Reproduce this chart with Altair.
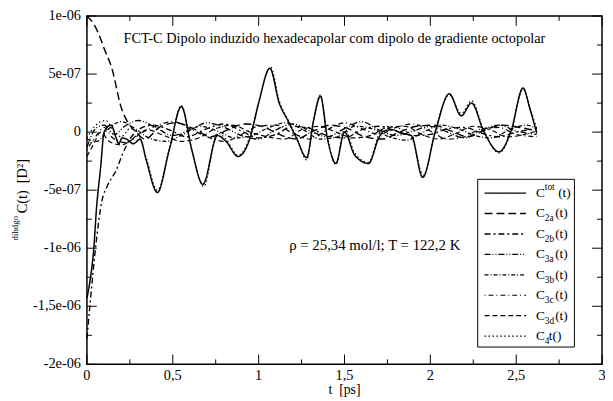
import altair as alt
import pandas as pd

W, H = 522, 353
FONT = "Liberation Serif"

# ---- data (values in units of 1e-07 D^2) ----
t_tot = [0, 0.02, 0.04, 0.055, 0.08, 0.10, 0.14, 0.17, 0.185, 0.205, 0.23, 0.27, 0.31, 0.345, 0.41, 0.48,
         0.55, 0.61, 0.675, 0.76, 0.81, 0.88, 0.95, 1.0, 1.065, 1.12, 1.17, 1.22, 1.28, 1.32, 1.36, 1.40,
         1.45, 1.50, 1.56, 1.64, 1.70, 1.73, 1.78, 1.83, 1.89, 1.955, 2.03, 2.11, 2.18, 2.24, 2.31, 2.40,
         2.47, 2.54, 2.58, 2.62]
c_tot = [-14.3, -12.6, -10.0, -6.7, -3.0, 0.0, 0.6, -0.5, -1.0, -0.5, -0.6, -1.0, -0.6, -2.4, -5.2, -1.5,
         2.2, -1.5, -4.5, -0.3, -0.8, -2.1, -0.5, 2.5, 5.5, 2.5, 1.0, -0.5, -2.2, 1.0, 3.1, -0.5,
         -2.7, 0.0, -2.0, -2.7, -0.5, 0.1, 0.2, -0.1, -0.3, -3.9, 0.1, 3.3, 1.4, 2.5, 0.1, -1.7,
         0.1, 3.8, 2.0, -0.1]

t_2a = [0, 0.04, 0.07, 0.10, 0.145, 0.2, 0.24, 0.28, 0.34, 0.42, 0.52, 0.62, 0.72, 0.82, 0.92, 1.02,
        1.12, 1.22, 1.32, 1.42, 1.52, 1.62, 1.72, 1.82, 1.92, 2.02, 2.12, 2.22, 2.32, 2.42, 2.52, 2.62]
c_2a = [10.0, 9.3, 8.4, 7.2, 5.5, 2.1, 0.8, 0.1, -0.6, 0.4, 0.8, 0.3, -0.4, 0.2, 0.7, 0.5,
        -0.2, -0.6, 0.1, 0.6, 0.3, -0.4, -0.6, 0.0, 0.5, 0.6, 0.1, -0.4, 0.2, 0.6, 0.4, 0.1]

t_2b = [0, 0.02, 0.05, 0.086, 0.12, 0.17, 0.21, 0.25, 0.3, 0.38, 0.48, 0.58, 0.7, 0.8, 0.9, 1.0,
        1.1, 1.2, 1.3, 1.4, 1.5, 1.6, 1.7, 1.8, 1.9, 2.0, 2.1, 2.2, 2.3, 2.4, 2.5, 2.62]
c_2b = [-17.8, -14.5, -10.0, -6.0, -4.6, -3.3, -1.8, -0.6, 0.2, 0.6, 0.2, -0.4, 0.3, 0.7, 0.1, -0.5,
        -0.2, 0.5, 0.3, -0.3, -0.5, 0.2, 0.5, 0.1, -0.3, -0.2, 0.3, 0.4, -0.1, -0.4, 0.0, 0.3]

t_3a = [0, 0.05, 0.1, 0.16, 0.22, 0.3, 0.4, 0.5, 0.6, 0.7, 0.8, 0.9, 1.0, 1.1, 1.2, 1.3, 1.4, 1.5,
        1.6, 1.7, 1.8, 1.9, 2.0, 2.1, 2.2, 2.3, 2.4, 2.5, 2.62]
c_3a = [-1.3, 0.3, 0.6, -0.2, 0.5, 1.0, 0.4, -0.3, 0.2, 0.8, 0.4, -0.3, -0.6, 0.2, 0.7, 0.1, -0.4, 0.3,
        0.9, 0.2, -0.3, 0.1, 0.5, 0.0, -0.5, 0.2, 0.6, 0.1, -0.2]

t_3b = [0, 0.06, 0.12, 0.2, 0.28, 0.36, 0.46, 0.56, 0.66, 0.76, 0.86, 0.96, 1.06, 1.16, 1.26, 1.36,
        1.46, 1.56, 1.66, 1.76, 1.86, 1.96, 2.06, 2.16, 2.26, 2.36, 2.46, 2.56, 2.62]
c_3b = [-0.6, -0.8, 0.2, 0.9, 0.3, -0.5, -0.8, -0.2, 0.5, 0.1, -0.5, -0.3, 0.4, 0.8, 0.2, -0.6,
        -0.4, 0.5, 0.3, -0.4, -0.7, 0.0, 0.6, 0.3, -0.3, -0.5, 0.2, 0.6, 0.3]

t_3c = [0, 0.05, 0.1, 0.15, 0.22, 0.3, 0.4, 0.5, 0.6, 0.7, 0.8, 0.9, 1.0, 1.1, 1.2, 1.3, 1.4, 1.5,
        1.6, 1.7, 1.8, 1.9, 2.0, 2.1, 2.2, 2.3, 2.4, 2.5, 2.62]
c_3c = [-1.5, -0.4, 0.4, -0.5, -0.9, -0.2, 0.5, 0.9, 0.3, -0.4, -0.8, -0.2, 0.5, 0.6, -0.1, -0.6, 0.2, 0.8,
        0.3, -0.2, 0.4, 0.7, 0.1, -0.6, -0.4, 0.3, 0.4, -0.2, -0.4]

t_3d = [0, 0.04, 0.08, 0.13, 0.2, 0.27, 0.35, 0.45, 0.55, 0.65, 0.75, 0.85, 0.95, 1.05, 1.15, 1.25,
        1.35, 1.45, 1.55, 1.65, 1.75, 1.85, 1.95, 2.05, 2.15, 2.25, 2.35, 2.45, 2.55, 2.62]
c_3d = [-2.1, -1.0, 0.0, -0.8, -1.1, -0.6, 0.2, -0.3, -0.8, -0.5, 0.3, 0.6, 0.0, -0.4, -0.6, 0.2,
        0.5, 0.0, -0.5, -0.3, 0.4, 0.5, -0.2, -0.6, -0.1, 0.5, 0.2, -0.4, -0.2, 0.1]

t_4 = [0, 0.04, 0.08, 0.11, 0.15, 0.2, 0.25, 0.3, 0.345, 0.41, 0.48, 0.55, 0.61, 0.68, 0.76, 0.81,
       0.88, 0.95, 1.0, 1.07, 1.12, 1.17, 1.22, 1.28, 1.32, 1.36, 1.40, 1.45, 1.50, 1.56, 1.64, 1.70,
       1.74, 1.79, 1.84, 1.89, 1.96, 2.03, 2.11, 2.18, 2.24, 2.31, 2.40, 2.47, 2.54, 2.58, 2.62]
c_4 = [-0.5, 0.4, 0.9, 1.0, 0.2, -0.4, 0.3, -0.2, -2.2, -5.0, -1.4, 2.3, -1.4, -4.7, -0.1, -0.6,
       -2.0, -0.3, 2.6, 5.6, 2.7, 1.1, -0.4, -2.4, 1.1, 3.2, -0.4, -2.8, 0.3, -1.8, -2.6, -0.2,
       0.5, 0.4, 0.2, -0.4, -3.7, 0.2, 3.2, 1.6, 2.7, 0.2, -1.8, 0.0, 3.7, 2.1, 0.3]

series_names = ["tot", "2a", "2b", "3a", "3b", "3c", "3d", "4"]
series_data = [(t_tot, c_tot), (t_2a, c_2a), (t_2b, c_2b), (t_3a, c_3a), (t_3b, c_3b),
               (t_3c, c_3c), (t_3d, c_3d), (t_4, c_4)]
dash_patterns = [[1, 0], [8, 4], [6, 3, 2, 3], [6, 2, 1, 2, 1, 2], [4, 2, 1, 2], [1, 3, 5, 3], [5, 3], [1.5, 2.5]]
stroke_widths = [1.5, 1.1, 1.1, 1.1, 1.1, 1.1, 1.1, 1.2]

# axis ticks / labels
x_major = [0, 0.5, 1, 1.5, 2, 2.5, 3]
x_major_text = ["0", "0,5", "1", "1,5", "2", "2,5", "3"]
x_minor = [0.25, 0.75, 1.25, 1.75, 2.25, 2.75]
y_major = [-2e-06, -1.5e-06, -1e-06, -5e-07, 0, 5e-07, 1e-06]
y_major_text = ["-2e-06", "-1,5e-06", "-1e-06", "-5e-07", "0", "5e-07", "1e-06"]
y_minor = [-1.75e-06, -1.25e-06, -7.5e-07, -2.5e-07, 2.5e-07, 7.5e-07]

title_text = "FCT-C Dipolo induzido hexadecapolar com dipolo de gradiente octopolar"
note_text = "ρ = 25,34 mol/l; T = 122,2 K"
x_title = "t\u00a0\u00a0[ps]"
y_title_pre = "dihdgo"
y_title_main = "C(t)\u00a0\u00a0[D²]"

# ---- build tables ----
rows = []
for name, (ts, cs) in zip(series_names, series_data):
    for t, c in zip(ts, cs):
        rows.append({"series": name, "t": t, "c": c * 1e-07})
df = pd.DataFrame(rows)

xs = alt.Scale(domain=[0, 3], nice=False, zero=False)
ys = alt.Scale(domain=[-2e-06, 1e-06], nice=False, zero=False)
dash_scale = alt.Scale(domain=series_names, range=dash_patterns)
sw_scale = alt.Scale(domain=series_names, range=stroke_widths)

lines = alt.Chart(df).mark_line(color="black", interpolate="monotone").encode(
    x=alt.X("t:Q", scale=xs, axis=None),
    y=alt.Y("c:Q", scale=ys, axis=None),
    detail="series:N",
    strokeDash=alt.StrokeDash("series:N", scale=dash_scale, legend=None),
    strokeWidth=alt.StrokeWidth("series:N", scale=sw_scale, legend=None),
)


def tick_layer(vals, axis, length, side):
    d = pd.DataFrame({"v": vals})
    base = alt.Chart(d).mark_rule(color="black", strokeWidth=1)
    if axis == "x":
        if side == "bottom":
            return base.encode(x=alt.X("v:Q", scale=xs, axis=None), y=alt.value(H), y2=alt.value(H - length))
        return base.encode(x=alt.X("v:Q", scale=xs, axis=None), y=alt.value(0), y2=alt.value(length))
    if side == "left":
        return base.encode(y=alt.Y("v:Q", scale=ys, axis=None), x=alt.value(0), x2=alt.value(length))
    return base.encode(y=alt.Y("v:Q", scale=ys, axis=None), x=alt.value(W), x2=alt.value(W - length))


ticks = [
    tick_layer(x_major, "x", 10, "bottom"), tick_layer(x_minor, "x", 5, "bottom"),
    tick_layer(x_major, "x", 10, "top"), tick_layer(x_minor, "x", 5, "top"),
    tick_layer(y_major, "y", 10, "left"), tick_layer(y_minor, "y", 5, "left"),
    tick_layer(y_major, "y", 10, "right"), tick_layer(y_minor, "y", 5, "right"),
]

x_labels = alt.Chart(pd.DataFrame({"v": x_major, "lab": x_major_text})).mark_text(
    font=FONT, fontSize=14.5, align="center", baseline="middle", color="black").encode(
    x=alt.X("v:Q", scale=xs, axis=None), y=alt.value(H + 12), text="lab:N")
y_labels = alt.Chart(pd.DataFrame({"v": y_major, "lab": y_major_text})).mark_text(
    font=FONT, fontSize=14.5, align="right", baseline="middle", color="black").encode(
    y=alt.Y("v:Q", scale=ys, axis=None), x=alt.value(-6), text="lab:N")

one = pd.DataFrame({"a": [0]})
xt = alt.Chart(one).mark_text(text=x_title, font=FONT, fontSize=14, align="center",
                              baseline="middle", color="black").encode(
    x=alt.value(W / 2), y=alt.value(H + 26.5))
title = alt.Chart(one).mark_text(text=title_text, font=FONT, fontSize=14.5, align="left",
                                 baseline="alphabetic", color="black").encode(
    x=alt.value(37), y=alt.value(27))
note = alt.Chart(one).mark_text(text=note_text, font=FONT, fontSize=15, align="left",
                                baseline="middle", color="black").encode(
    x=alt.value(205), y=alt.value(232))

# y-axis title pieces (rotated)
ytitle = [
    alt.Chart(one).mark_text(text=y_title_pre, font=FONT, fontSize=9, angle=270, align="center",
                             baseline="middle", color="black").encode(x=alt.value(-73), y=alt.value(215)),
    alt.Chart(one).mark_text(text=y_title_main, font=FONT, fontSize=14.5, angle=270, align="left",
                             baseline="middle", color="black").encode(x=alt.value(-65), y=alt.value(200)),
]

# legend
leg_top = 179.5
leg_step = 20.7
leg_rows = pd.DataFrame({"series": series_names,
                         "ly": [leg_top + i * leg_step for i in range(len(series_names))]})
legend_box = alt.Chart(one).mark_rect(fill="white", stroke="black", strokeWidth=1).encode(
    x=alt.value(396), x2=alt.value(494), y=alt.value(165.5), y2=alt.value(335.5))
legend_lines = alt.Chart(leg_rows).mark_rule(color="black").encode(
    x=alt.value(403), x2=alt.value(445),
    y=alt.Y("ly:Q", scale=None, axis=None),
    strokeDash=alt.StrokeDash("series:N", scale=dash_scale, legend=None),
    strokeWidth=alt.StrokeWidth("series:N", scale=sw_scale, legend=None),
)
tail_text = ["(t)"] * 7 + ["t()"]
tail_x = [477.5, 474.5, 474.5, 474.5, 474.5, 474.5, 474.5, 468]
sub_dy = [-6, 5, 5, 5, 5, 5, 5, 5]
leg_big = []
leg_small = []
for i, name in enumerate(series_names):
    y0 = leg_top + i * leg_step
    leg_big.append({"txt": "C", "px": 455, "py": y0})
    leg_big.append({"txt": tail_text[i], "px": tail_x[i], "py": y0})
    leg_small.append({"txt": name, "px": 464, "py": y0 + sub_dy[i]})
legend_big = alt.Chart(pd.DataFrame(leg_big)).mark_text(
    font=FONT, fontSize=13.5, align="left", baseline="middle", color="black").encode(
    x=alt.X("px:Q", scale=None, axis=None), y=alt.Y("py:Q", scale=None, axis=None), text="txt:N")
legend_small = alt.Chart(pd.DataFrame(leg_small)).mark_text(
    font=FONT, fontSize=9.5, align="left", baseline="middle", color="black").encode(
    x=alt.X("px:Q", scale=None, axis=None), y=alt.Y("py:Q", scale=None, axis=None), text="txt:N")

chart = alt.layer(
    lines, *ticks, x_labels, y_labels, xt, title, note, *ytitle,
    legend_box, legend_lines, legend_big, legend_small
).properties(
    width=W, height=H,
    autosize=alt.AutoSizeParams(type="none"),
    padding={"left": 80, "top": 5.5, "right": 3, "bottom": 30},
    background="white",
).configure_view(stroke="black", strokeWidth=1.5)

chart.save("out.html", embed_options={"renderer": "svg", "actions": False})
